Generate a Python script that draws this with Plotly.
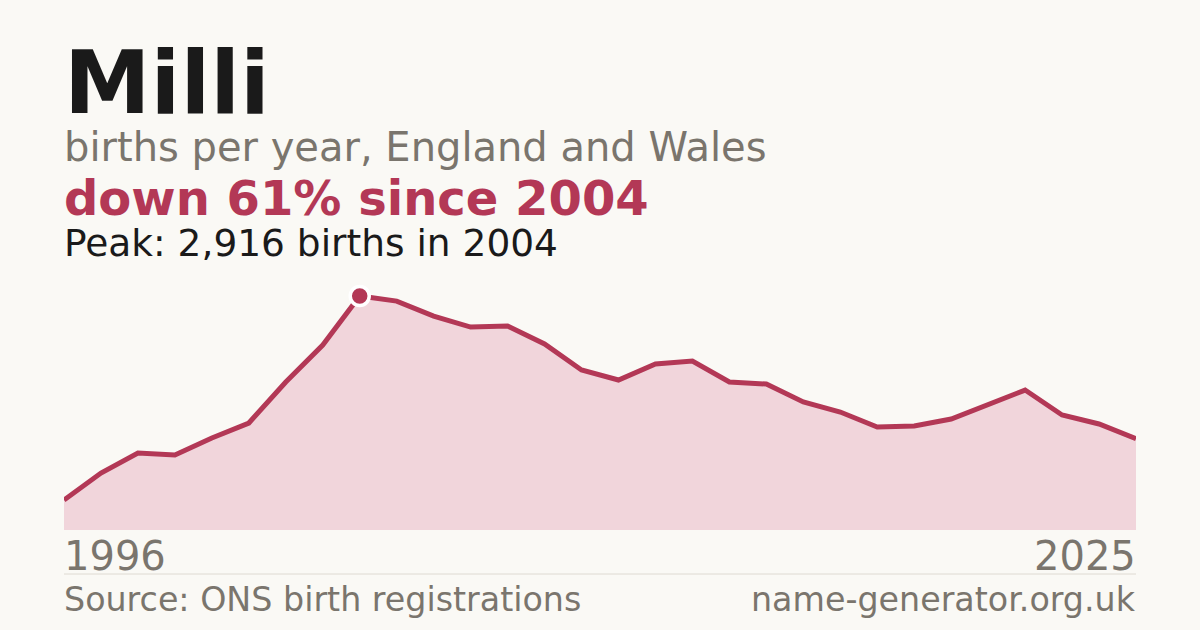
import plotly.graph_objs as go
from plotly.graph_objs import Layout

# births per year for the name
years = list(range(1996, 2026))
births = [374, 710, 959, 935, 1146, 1333, 1844, 2305, 2916, 2853,
          2666, 2529, 2542, 2318, 1994, 1869, 2068, 2106, 1844, 1819,
          1595, 1470, 1283, 1296, 1383, 1558, 1744, 1433, 1321, 1137]

name = 'Milli'
subtitle = 'births per year, England and Wales'
source = 'Source: ONS birth registrations'
site = 'name-generator.org.uk'

W, H = 1200, 630
bg = '#faf9f5'
crimson = '#b33856'
grey = '#7a756d'
ink = '#1a1a1a'
font = 'DejaVu Sans'

peak = max(births)
peak_year = years[births.index(peak)]
drop = round((peak - births[-1]) / peak * 100)


def px_x(p):
    return p / W


def px_y(p):
    return 1 - p / H


layout = Layout(
    width=W, height=H,
    paper_bgcolor=bg,
    plot_bgcolor=bg,
    showlegend=False,
    margin=dict(t=0, l=0, r=0, b=0),
    font=dict(family=font, color=ink),
    xaxis=dict(domain=[64 / W, 1136 / W], range=[years[0], years[-1]],
               visible=False, fixedrange=True),
    yaxis=dict(domain=[100 / H, 350 / H], range=[0, peak * 250 / 234],
               visible=False, fixedrange=True),
)
fig = go.Figure(layout=layout)

fig.add_trace(go.Scatter(x=years, y=births, mode='lines', fill='tozeroy',
                         fillcolor='#f1d5db', line=dict(color=crimson, width=5),
                         hoverinfo='skip'))
fig.add_trace(go.Scatter(x=[peak_year], y=[peak], mode='markers',
                         marker=dict(size=19, color=crimson, line=dict(color='white', width=3.5)),
                         hoverinfo='skip'))

texts = [
    # text, x px, bottom px, size, colour, bold, anchor
    (name, 62, 136, 87, ink, True, 'left'),
    (subtitle, 62, 172, 40, grey, False, 'left'),
    ('down %d%% since %d' % (drop, peak_year), 62, 228, 48, crimson, True, 'left'),
    ('Peak: {:,} births in {}'.format(peak, peak_year), 62, 267, 37.5, ink, False, 'left'),
    (str(years[0]), 62, 581, 40, grey, False, 'left'),
    (str(years[-1]), 1138, 581, 40, grey, False, 'right'),
    (source, 62, 621, 33.3, grey, False, 'left'),
    (site, 1138, 621, 33.3, grey, False, 'right'),
]
for text, x, y, size, color, bold, anchor in texts:
    fig.add_annotation(text='<b>%s</b>' % text if bold else text,
                       x=px_x(x), y=px_y(y), xref='paper', yref='paper',
                       xanchor=anchor, yanchor='bottom', showarrow=False,
                       font=dict(family=font, size=size, color=color))

# thin rule above the footer
fig.add_shape(type='line', xref='paper', yref='paper',
              x0=px_x(64), x1=px_x(1136), y0=px_y(574), y1=px_y(574),
              line=dict(color='#dedad2', width=1))

fig.write_html('out.html', config={'displayModeBar': False},
               post_script="document.body.style.margin='0';document.body.style.background='%s';" % bg)
